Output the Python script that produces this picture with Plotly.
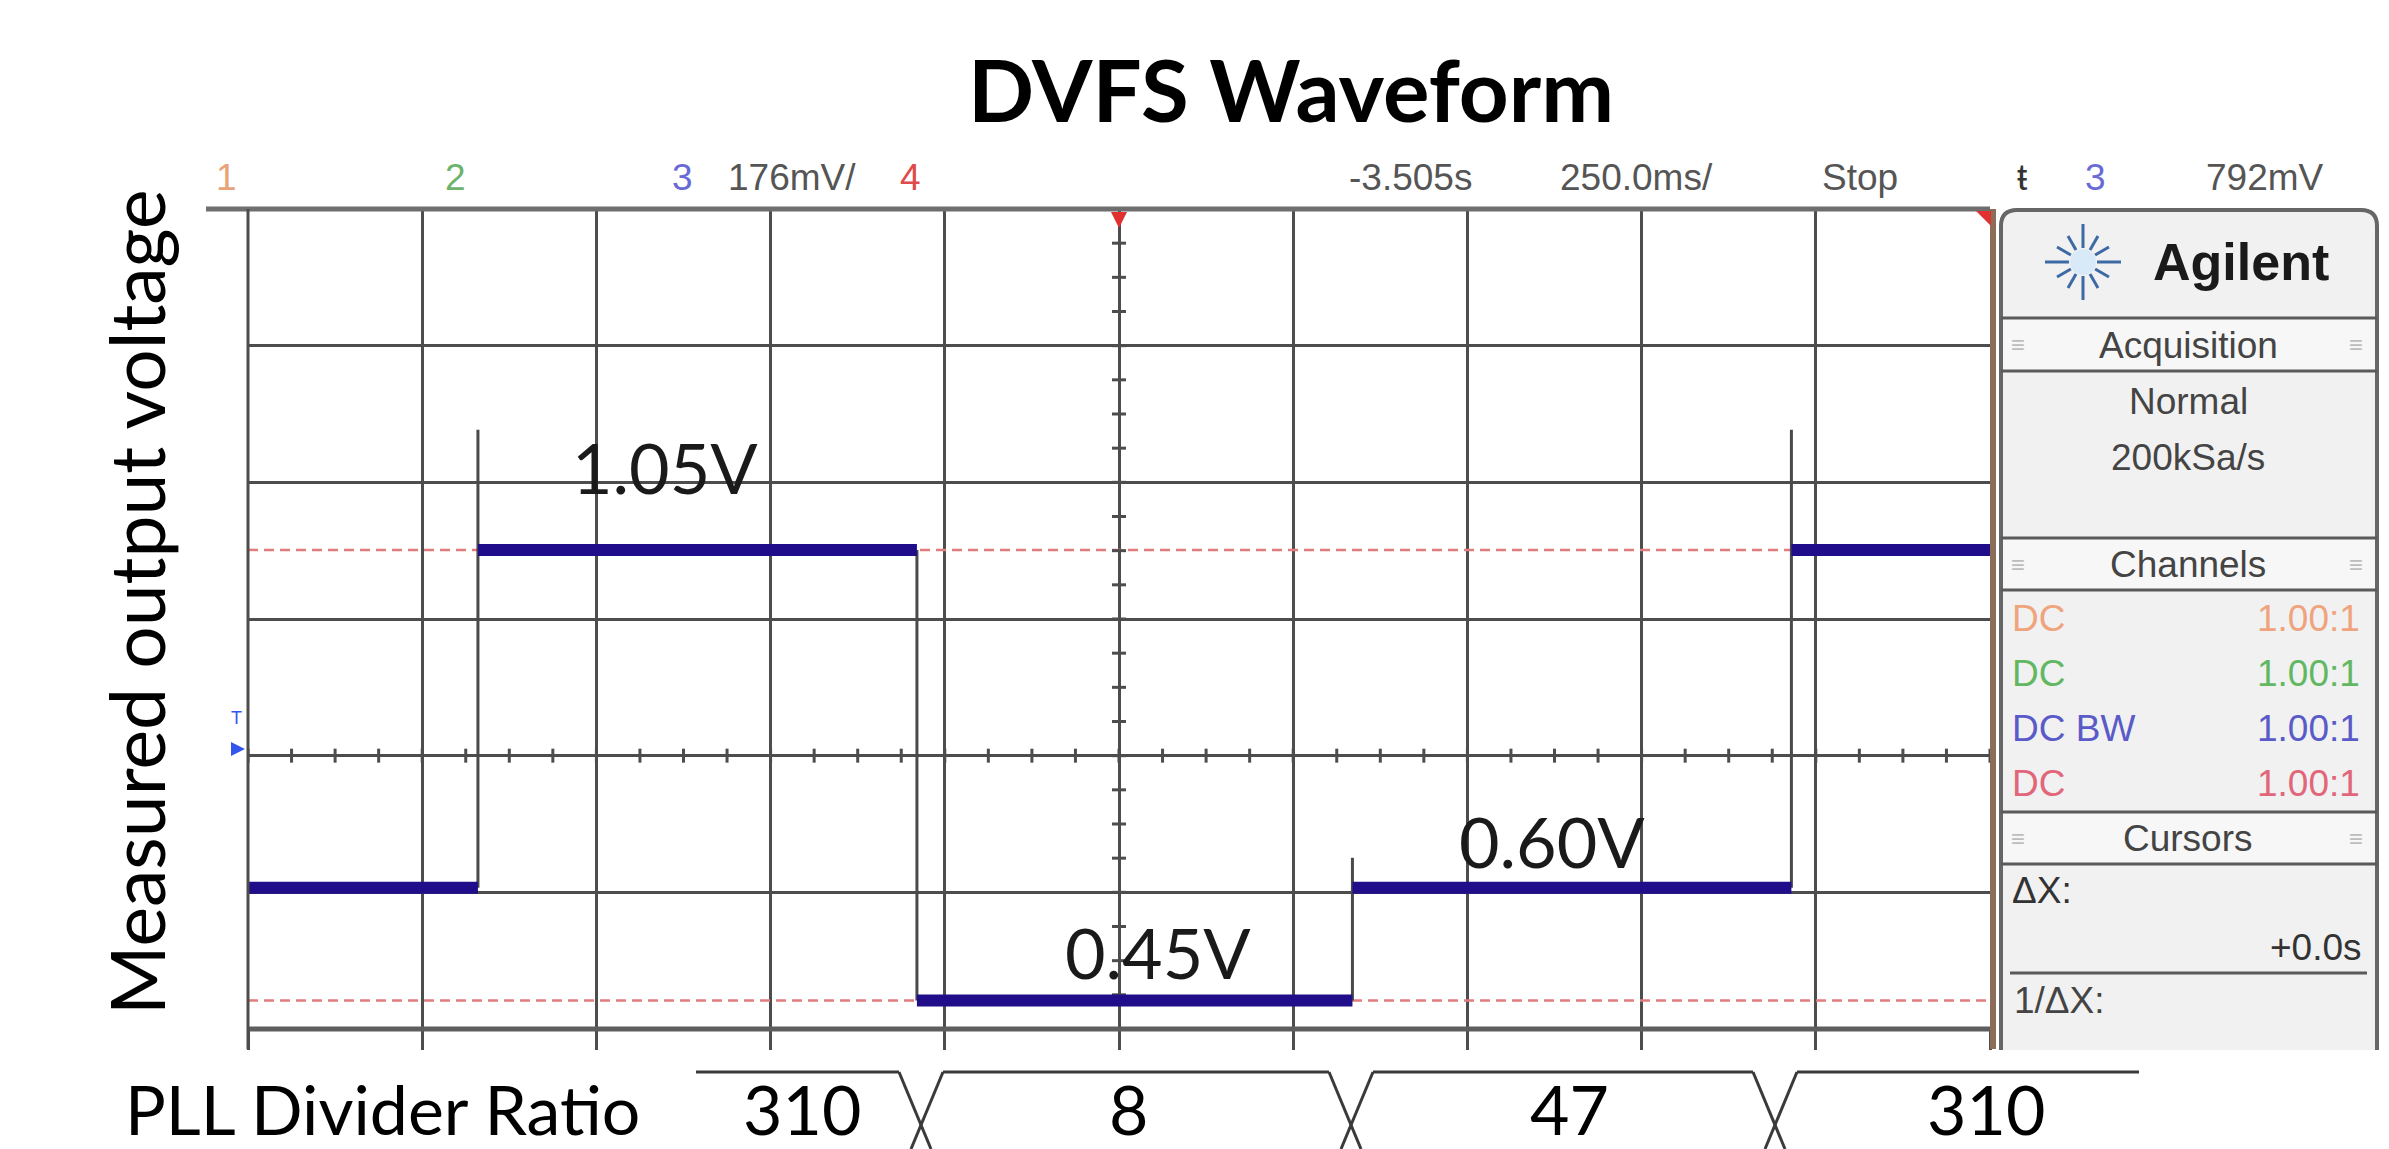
import math
import plotly.graph_objects as go

# ---------------- data ----------------
time_left, time_right = -4.755, -2.255      # s   (250 ms/div, centre -3.505 s)
time_center = -3.505
time_per_div = 0.25
volt_bottom, volt_top = 0.412, 1.504        # V
volt_per_div = 0.182
volt_center = 0.776

seg_start = [-4.755, -4.425, -3.795, -3.170, -2.540]
seg_end = [-4.425, -3.795, -3.170, -2.540, -2.255]
seg_level = [0.60, 1.05, 0.45, 0.60, 1.05]

edge_time = [-4.425, -3.795, -3.170, -2.540]
edge_peak = [1.21, 1.05, 0.64, 1.21]

cursor_levels = [1.05, 0.45]

level_text = ["1.05V", "0.45V", "0.60V"]
level_text_time = [-4.157, -3.449, -2.884]
level_text_volt = [1.160, 0.514, 0.662]

divider_ratio = ["310", "8", "47", "310"]

top_texts = ["1", "2", "3", "176mV/", "4", "-3.505s", "250.0ms/", "Stop", "ŧ", "3", "792mV"]
top_colors = ["#e9a27a", "#6cb36c", "#6a6ad6", "#555555", "#e04a4a", "#555555",
              "#555555", "#555555", "#333333", "#6a6ad6", "#555555"]

channel_coupling = ["DC", "DC", "DC BW", "DC"]
channel_probe = ["1.00:1", "1.00:1", "1.00:1", "1.00:1"]
channel_colors = ["#f0a47e", "#62b862", "#5a5ac8", "#e2667a"]

# ---------------- layout geometry (pixels) ----------------
W, H = 2389, 1149
L, R, T, B = 248, 1990, 209, 1029


def xp(px):
    return (px - L) / (R - L)


def yp(py):
    return (B - py) / (B - T)


UI = "Liberation Sans, Arial, sans-serif"
TXT = "Lato, Carlito, sans-serif"
GRID = "#4d4d4d"
UIS = 37

fig = go.Figure()

# cursors (red dashed)
for lv in cursor_levels:
    fig.add_trace(go.Scatter(x=[time_left, time_right], y=[lv, lv], mode="lines",
                             line=dict(color="#e27c7c", width=2.5, dash="10px,6px"),
                             hoverinfo="skip", showlegend=False))

# centre-line sub-division ticks
qx = [time_left + i * time_per_div / 4 for i in range(41)]
fig.add_trace(go.Scatter(x=qx, y=[volt_center] * len(qx), mode="markers",
                         marker=dict(symbol="line-ns", size=10, line=dict(width=3, color=GRID)),
                         hoverinfo="skip", showlegend=False))
qy = [volt_bottom + i * volt_per_div / 4 for i in range(25)]
fig.add_trace(go.Scatter(x=[time_center] * len(qy), y=qy, mode="markers",
                         marker=dict(symbol="line-ew", size=10, line=dict(width=3, color=GRID)),
                         hoverinfo="skip", showlegend=False))

# thin edges
ex, ey = [], []
for i, t in enumerate(edge_time):
    lo = min(seg_level[i], seg_level[i + 1])
    hi = max(seg_level[i], seg_level[i + 1], edge_peak[i])
    ex += [t, t, None]
    ey += [lo, hi, None]
fig.add_trace(go.Scatter(x=ex, y=ey, mode="lines", line=dict(color="#4a4a4a", width=3),
                         hoverinfo="skip", showlegend=False))

# thick levels
wx, wy = [], []
for s, e, lv in zip(seg_start, seg_end, seg_level):
    wx += [s, e, None]
    wy += [lv, lv, None]
fig.add_trace(go.Scatter(x=wx, y=wy, mode="lines", line=dict(color="#1f0d8a", width=12),
                         hoverinfo="skip", showlegend=False))

shapes = []
ann = []


def line(x0, y0, x1, y1, color, width):
    shapes.append(dict(type="line", xref="paper", yref="paper", x0=xp(x0), y0=yp(y0),
                       x1=xp(x1), y1=yp(y1), line=dict(color=color, width=width)))


def text(x, y, s, size, color="#000000", family=UI, xanchor="center", bold=False, **kw):
    ann.append(dict(xref="paper", yref="paper", x=xp(x), y=yp(y), text=s, showarrow=False,
                    xanchor=xanchor, yanchor="middle",
                    font=dict(family=family, size=size, color=color,
                              weight="bold" if bold else "normal"), **kw))


# borders
line(206, T, R, T, "#6e6e6e", 5)
line(L, B, R, B, "#5e5e5e", 5)
line(L, T, L, 1049, GRID, 3)
line(R + 3, T, R + 3, 1049, "#8c6e58", 6)

# red markers at the top
shapes.append(dict(type="path", xref="paper", yref="paper",
                   path=f"M {xp(1111)} {yp(212)} L {xp(1127)} {yp(212)} L {xp(1119)} {yp(228)} Z",
                   fillcolor="#e03030", line=dict(width=0)))
shapes.append(dict(type="path", xref="paper", yref="paper",
                   path=f"M {xp(1976)} {yp(211)} L {xp(1991)} {yp(211)} L {xp(1991)} {yp(226)} Z",
                   fillcolor="#e03030", line=dict(width=0)))
# trigger level marker
shapes.append(dict(type="path", xref="paper", yref="paper",
                   path=f"M {xp(231)} {yp(742)} L {xp(245)} {yp(749)} L {xp(231)} {yp(756)} Z",
                   fillcolor="#3355ee", line=dict(width=0)))
text(236, 718, "T", 18, "#3355ee")

# ---------------- right panel ----------------
PX0, PX1, PY0, PY1 = 2001, 2377, 210, 1050
rr = 16
shapes.append(dict(type="path", xref="paper", yref="paper", layer="below",
                   path=(f"M {xp(PX0)} {yp(PY1)} L {xp(PX0)} {yp(PY0 + rr)} "
                         f"Q {xp(PX0)} {yp(PY0)} {xp(PX0 + rr)} {yp(PY0)} "
                         f"L {xp(PX1 - rr)} {yp(PY0)} Q {xp(PX1)} {yp(PY0)} {xp(PX1)} {yp(PY0 + rr)} "
                         f"L {xp(PX1)} {yp(PY1)} Z"),
                   fillcolor="#f1f1f1", line=dict(width=0)))
shapes.append(dict(type="path", xref="paper", yref="paper",
                   path=(f"M {xp(PX0)} {yp(PY1)} L {xp(PX0)} {yp(PY0 + rr)} "
                         f"Q {xp(PX0)} {yp(PY0)} {xp(PX0 + rr)} {yp(PY0)} "
                         f"L {xp(PX1 - rr)} {yp(PY0)} Q {xp(PX1)} {yp(PY0)} {xp(PX1)} {yp(PY0 + rr)} "
                         f"L {xp(PX1)} {yp(PY1)}"),
                   line=dict(color="#666666", width=4)))
for yy in [318, 371, 538, 590, 812, 864]:
    line(PX0, yy, PX1, yy, "#5a5a5a", 3)
line(2010, 973, 2367, 973, "#5a5a5a", 3)
for y0, y1 in [(318, 371), (538, 590), (812, 864)]:
    shapes.append(dict(type="rect", xref="paper", yref="paper", layer="below",
                       x0=xp(PX0), x1=xp(PX1), y0=yp(y0), y1=yp(y1),
                       fillcolor="#f7f7f7", line=dict(width=0)))
    text(2018, (y0 + y1) / 2, "≡", 24, "#bdbdbd")
    text(2356, (y0 + y1) / 2, "≡", 24, "#bdbdbd")

# Agilent logo
cx, cy = 2083, 262
shapes.append(dict(type="circle", xref="paper", yref="paper",
                   x0=xp(cx - 13), x1=xp(cx + 13), y0=yp(cy - 13), y1=yp(cy + 13),
                   fillcolor="#d8e9f8", line=dict(width=0)))
for k in range(12):
    a = math.radians(k * 30)
    r0, r1 = (14, 38) if k % 3 == 0 else (14, 30)
    line(cx + r0 * math.cos(a), cy + r0 * math.sin(a), cx + r1 * math.cos(a), cy + r1 * math.sin(a),
         "#3d6aa5", 3)
text(2241, 262, "Agilent", 52, "#1a1a1a", family="Liberation Sans, Arial, sans-serif", bold=True)

text(2188, 345, "Acquisition", UIS, "#444444")
text(2188, 401, "Normal", UIS, "#444444")
text(2188, 457, "200kSa/s", UIS, "#444444")
text(2188, 564, "Channels", UIS, "#444444")
for i, (cpl, prb, col) in enumerate(zip(channel_coupling, channel_probe, channel_colors)):
    yy = 618 + i * 55
    text(2010, yy, cpl, UIS, col, xanchor="left")
    text(2362, yy, prb, UIS, col, xanchor="right")
text(2188, 838, "Cursors", UIS, "#444444")
text(2010, 890, "ΔX:", UIS, "#333333", xanchor="left")
text(2364, 947, "+0.0s", UIS, "#333333", xanchor="right")
text(2012, 1000, "1/ΔX:", UIS, "#444444", xanchor="left")

# top status row
top_x = [226, 455, 682, 792, 910, 1410, 1636, 1860, 2022, 2095, 2265]
for s, c, x in zip(top_texts, top_colors, top_x):
    text(x, 178, s, UIS, c)

# title and axis label
text(1291, 88, "DVFS Waveform", 87, "#000000", family=TXT, bold=True)
text(136, 602, "Measured output voltage", 75, "#000000", family=TXT, textangle=-90)

# level labels (data coordinates)
for s, t, v in zip(level_text, level_text_time, level_text_volt):
    ann.append(dict(xref="x", yref="y", x=t, y=v, text=s, showarrow=False,
                    xanchor="center", yanchor="middle",
                    font=dict(family=TXT, size=70, color="#1a1a1a")))

# PLL divider ratio bus
BUS_TY = 1108
text(382, BUS_TY, "PLL Divider Ratio", 68, "#000000", family=TXT)
cross = [921, 1351, 1775]
bus_x0, bus_x1, bus_y = 696, 2139, 1072
hw = 22
starts = [bus_x0] + [c + hw for c in cross]
ends = [c - hw for c in cross] + [bus_x1]
for a, b in zip(starts, ends):
    line(a, bus_y, b, bus_y, "#3a3a3a", 3)
for c in cross:
    line(c - hw, bus_y, c + 10, 1149, "#3a3a3a", 3)
    line(c + hw, bus_y, c - 10, 1149, "#3a3a3a", 3)
bus_centers = [802, 1128, 1569, 1986]
for s, x in zip(divider_ratio, bus_centers):
    text(x, BUS_TY, s, 68, "#000000", family=TXT)

fig.update_layout(
    width=W, height=H, autosize=False,
    margin=dict(l=L, r=W - R, t=T, b=H - B, pad=0),
    paper_bgcolor="#ffffff", plot_bgcolor="#ffffff",
    showlegend=False, shapes=shapes, annotations=ann,
    xaxis=dict(range=[time_left, time_right], tick0=time_left, dtick=time_per_div,
               showgrid=True, gridcolor=GRID, gridwidth=3, zeroline=False, showline=False,
               showticklabels=False, ticks="outside", ticklen=20, tickwidth=3, tickcolor=GRID,
               fixedrange=True),
    yaxis=dict(range=[volt_bottom, volt_top], tick0=volt_bottom, dtick=volt_per_div,
               showgrid=True, gridcolor=GRID, gridwidth=3, zeroline=False, showline=False,
               showticklabels=False, ticks="", fixedrange=True),
)

fig.write_html("out.html", config={"displayModeBar": False},
               post_script="document.body.style.margin='0px';document.body.style.overflow='hidden';")
